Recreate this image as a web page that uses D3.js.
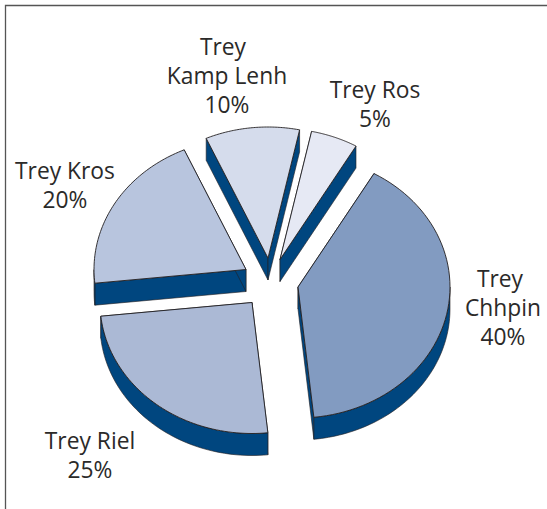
<!DOCTYPE html>
<html>
<head>
<meta charset="utf-8">
<script src="https://cdn.jsdelivr.net/npm/d3@7/dist/d3.min.js"></script>
<style>
  html, body { margin: 0; padding: 0; background: #fff; }
  svg { display: block; }
  text { font-family: "Open Sans", sans-serif; font-size: 22.8px; fill: #2b2a29; text-anchor: middle; }
</style>
</head>
<body>
<script>
// Share of each group, clockwise from the upper right
const categories = ["Trey Chhpin", "Trey Riel", "Trey Kros", "Trey Kamp Lenh", "Trey Ros"];
const shares = [40, 25, 20, 10, 5];
const fills = ["#829bc1", "#abb9d5", "#b8c5de", "#d5dcec", "#e6e9f4"];
// How far each slice is pulled out of the disc
const pullX = [28, -18, -24, -2, 10];
const pullY = [6, 21.5, -11.5, -23, -21.5];

// Label text, one array of lines per slice, with anchor points
const labelLines = [
  ["Trey", "Chhpin", "40%"],
  ["Trey Riel", "25%"],
  ["Trey Kros", "20%"],
  ["Trey", "Kamp Lenh", "10%"],
  ["Trey Ros", "5%"]
];
const labelX = [[500, 503, 503], [90, 90], [65, 65], [223, 227, 227], [375, 375]];
const labelY = [287, 449, 179, 55, 98];
const lineGap = 29;

const width = 547, height = 509;
const centre = { x: 270, y: 281 };
const radiusX = 152, radiusY = 131, depth = 22;
const wallColor = "#00467f", edgeColor = "#231f20";

const svg = d3.select("body").append("svg").attr("width", width).attr("height", height);

// Frame: top and left rules only
const frame = d3.path();
frame.moveTo(5.5, height);
frame.lineTo(5.5, 5.5);
frame.lineTo(width, 5.5);
svg.append("path").attr("d", frame.toString()).attr("fill", "none").attr("stroke", "#555").attr("stroke-width", 1.3);

const arcs = d3.pie().sort(null).startAngle(Math.PI / 6).endAngle(Math.PI / 6 + 2 * Math.PI).value(d => d)(shares);

// Tilted disc: unit circle coordinates scaled into an ellipse
const sx = d3.scaleLinear().domain([-1, 1]).range([-radiusX, radiusX]);
const sy = d3.scaleLinear().domain([-1, 1]).range([-radiusY, radiusY]);
const onRim = t => [sx(Math.sin(t)), sy(-Math.cos(t))];
const rim = (a, b) => d3.range(0, 61).map(i => onRim(a + (b - a) * i / 60));
const line = d3.line();

arcs.forEach((arc, i) => {
  const g = svg.append("g").attr("transform", `translate(${centre.x + pullX[i]},${centre.y + pullY[i]})`);
  const down = ([x, y]) => [x, y + depth];
  const apex = [0, 0];
  const start = onRim(arc.startAngle), end = onRim(arc.endAngle);

  // Side walls: the two cut faces, then the part of the rim facing the viewer
  const faces = [
    [apex, start, down(start), down(apex)],
    [apex, end, down(end), down(apex)]
  ];
  const a = Math.max(arc.startAngle, Math.PI / 2), b = Math.min(arc.endAngle, 3 * Math.PI / 2);
  if (b > a) {
    const band = rim(a, b);
    faces.push(band.concat(band.map(down).reverse()));
  }
  faces.forEach(f => {
    g.append("path").attr("d", line(f) + "Z")
      .attr("fill", wallColor).attr("stroke", edgeColor).attr("stroke-width", 0.6).attr("stroke-linejoin", "round");
  });

  // Top surface
  g.append("path").attr("d", line([apex].concat(rim(arc.startAngle, arc.endAngle))) + "Z")
    .attr("fill", fills[i]).attr("stroke", edgeColor).attr("stroke-width", 0.9).attr("stroke-linejoin", "round");
});

labelLines.forEach((lines, i) => {
  const t = svg.append("text");
  lines.forEach((s, j) => {
    t.append("tspan").attr("x", labelX[i][j]).attr("y", labelY[i] + j * lineGap).text(s);
  });
});
</script>
</body>
</html>
